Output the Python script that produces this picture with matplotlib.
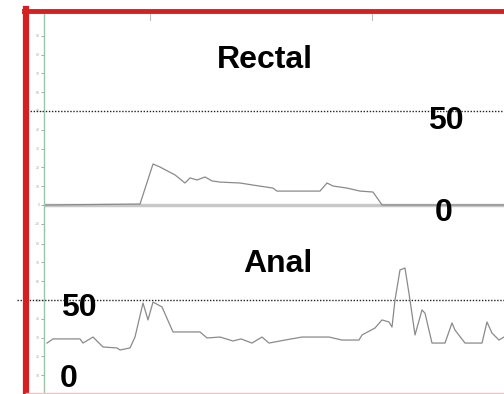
import numpy as np
import matplotlib
matplotlib.use('Agg')
import matplotlib.pyplot as plt
from matplotlib.lines import Line2D

# time axis (s) and pressures (mmHg)
rectal_t = [0, 23.75, 27, 28.75, 32.5, 35, 36.25, 38, 40, 41.75, 43.75, 48.75, 52, 57, 58,
            68.75, 70.5, 72, 75.5, 78.75, 82, 83.75, 84.25, 114.75]
rectal_p = [0, 0.5, 21.8, 20.2, 16, 11.7, 14.4, 13.3, 14.9, 12.8, 12.2, 11.7, 10.6, 9, 7.4,
            7.4, 11.7, 10.1, 9, 7.4, 6.9, 1.6, 0, 0]

anal_t = [0.5, 2, 8.75, 9.5, 12, 14.5, 18, 18.75, 21.25, 22.5, 24.5, 25.75, 27, 29.25, 32,
          38.75, 40.5, 43.75, 47, 49, 51.75, 54.25, 56, 60, 64.25, 71, 74.25, 78.5, 79.25,
          82.5, 84.25, 86, 86.75, 87.5, 88.75, 90, 91.25, 92.5, 94.25, 95, 96.75, 100,
          101.75, 102.5, 105, 109.25, 110.5, 111.75, 113.5, 114.75]
anal_p = [27.1, 29.3, 29.3, 27.1, 30.3, 25, 24.5, 23.4, 24.5, 30.3, 48.4, 39.4, 48.9, 46.3, 33,
          33, 29.8, 30.3, 28.2, 29.3, 27.1, 30.3, 27.1, 28.7, 30.3, 30.3, 28.7, 28.7, 31.4,
          35.1, 39.4, 38.3, 35.6, 50, 66, 67, 50, 31.4, 44.7, 43, 27.1, 27.1,
          37.8, 34, 27.1, 27.1, 38.3, 32.4, 28.7, 30.3]

top_ticks = [26.25, 81.75]
rectal_scale = np.arange(-10, 100, 10)
anal_scale = np.arange(10, 90, 10)

W, H = 504, 394
fig = plt.figure(figsize=(W / 100, H / 100), dpi=100)
plt.rcParams['font.family'] = ['Liberation Sans', 'DejaVu Sans']

px_per_unit = 94 / 50  # 50 mmHg spans 94 px
FS = 23


def make_axes(top, bottom, zero, scale, dot_start):
    ax = fig.add_axes([44 / W, 1 - bottom / H, (W - 44) / W, (bottom - top) / H])
    ax.set_xlim(-0.25, 114.75)
    ax.set_ylim(-(bottom - zero) / px_per_unit, (zero - top) / px_per_unit)
    for s in ['top', 'right', 'bottom']:
        ax.spines[s].set_visible(False)
    ax.spines['left'].set_color('#9cc4a8')
    ax.spines['left'].set_linewidth(1)
    ax.set_yticks(scale)
    ax.set_yticklabels([str(v) for v in scale])
    ax.tick_params(axis='y', length=2, width=0.6, color='#999999', labelsize=2.5,
                   labelcolor='#aaaaaa', pad=1)
    ax.set_xticks([])
    ax.axhline(50, xmin=(dot_start - 44) / (W - 44), color='#222222', lw=1,
               ls=(0, (1, 1.2)), clip_on=False)
    ax.patch.set_alpha(0)
    return ax


# rectal channel
ax1 = make_axes(14, 230, 205, rectal_scale, 27)
ax1.axhline(0, color='#c8c8c8', lw=2.5, zorder=1)
ax1.plot(rectal_t, rectal_p, color='#8a8a8a', lw=0.9, zorder=2)
ax1.text(55, 77, 'Rectal', fontsize=FS, fontweight='bold', ha='center', va='center')
ax1.text(100.25, 44.5, '50', fontsize=FS, fontweight='bold', ha='center', va='center')
ax1.text(99.75, -4, '0', fontsize=FS, fontweight='bold', ha='center', va='center')
for t in top_ticks:
    ax1.axvline(t, ymin=0.97, ymax=1, color='#bbbbbb', lw=0.8)

# anal channel
ax2 = make_axes(230, 394, 394, anal_scale, 17)
ax2.plot(anal_t, anal_p, color='#8a8a8a', lw=0.9, zorder=2)
ax2.text(58.25, 69, 'Anal', fontsize=FS, fontweight='bold', ha='center', va='center')
ax2.text(8.4, 45.5, '50', fontsize=FS, fontweight='bold', ha='center', va='center')
ax2.text(6, 8, '0', fontsize=FS, fontweight='bold', ha='center', va='center')

# red frame
fig.add_artist(Line2D([26 / W, 26 / W], [0, 1 - 9 / H], color='#d42020', lw=4.5,
                      transform=fig.transFigure))
fig.add_artist(Line2D([24 / W, 1], [1 - 11 / H, 1 - 11 / H], color='#d42020', lw=3.5,
                      transform=fig.transFigure))
fig.add_artist(Line2D([26 / W, 1], [1.5 / H, 1.5 / H], color='#f2c0c0', lw=1,
                      transform=fig.transFigure))

fig.savefig('out.png', dpi=100)
